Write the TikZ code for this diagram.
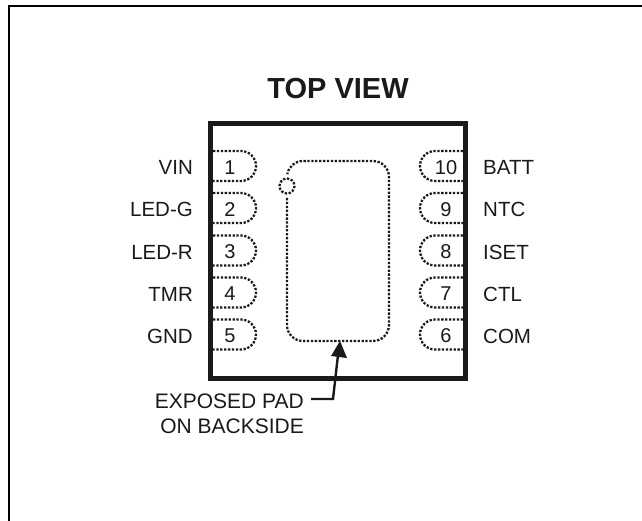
\documentclass[tikz,border=0pt]{standalone}
\usepackage{fontspec}
\setmainfont{Liberation Sans}
\definecolor{ink}{HTML}{1A1A1A}
\tikzset{
  x=1pt,y=-1pt,
  frameline/.style={line width=2pt,black},
  bodyline/.style={line width=5pt,ink,line join=miter},
  dots/.style={line width=2.3pt,ink,line cap=butt,dash pattern=on 2.3pt off 1.6pt},
  lbl/.style={font=\fontsize{20.5}{22}\selectfont,text=ink,inner sep=0pt},
  pinnum/.style={font=\fontsize{20}{22}\selectfont,text=ink,inner sep=0pt},
}
\begin{document}
\begin{tikzpicture}
\useasboundingbox (0,0) rectangle (642,521);
\fill[white] (0,0) rectangle (642,521);
\draw[frameline] (9,521) -- (9,6) -- (642,6);
\node[font=\fontsize{29}{32}\selectfont\bfseries,text=ink,inner sep=0pt] (title) at (338,89) {TOP VIEW};
\draw[bodyline] (210.5,123.5) rectangle (465.5,378.5);
% left pins
\foreach \i/\y/\n/\t in {1/166/1/VIN,2/208/2/LED-G,3/250.5/3/LED-R,4/292.5/4/TMR,5/334.5/5/GND}{
  \draw[dots] (213,\y-15) -- (241,\y-15) arc[start angle=-90,end angle=90,radius=15] -- (213,\y+15);
  \node[pinnum] (p\i) at (230,\y+1.5) {\n};
  \node[lbl,anchor=east] (l\i) at (193,\y+1.5) {\t};
}
% right pins
\foreach \i/\y/\n/\t in {10/166/10/BATT,9/208/9/NTC,8/250.5/8/ISET,7/292.5/7/CTL,6/334.5/6/COM}{
  \draw[dots] (463,\y-15) -- (435,\y-15) arc[start angle=270,end angle=90,radius=15] -- (463,\y+15);
  \node[pinnum] (p\i) at (446,\y+1.5) {\n};
  \node[lbl,anchor=west] (l\i) at (483,\y+1.5) {\t};
}
% exposed pad
\draw[dots] (287,198) -- (287,325) arc[start angle=180,end angle=90,radius=16] -- (373,341)
  arc[start angle=90,end angle=0,radius=16] -- (389,177) arc[start angle=0,end angle=-90,radius=16] -- (303,161)
  arc[start angle=-90,end angle=-170,radius=16];
\draw[dots] (287,186) circle[radius=7.5];
% callout
\node[lbl,font=\fontsize{21}{25}\selectfont,align=right,anchor=east] (cap) at (304,414) {EXPOSED PAD\\ON BACKSIDE};
\coordinate (tip) at (340,341);
\coordinate (bend) at (333,399);
\coordinate (start) at (311,399);
\fill[ink] (tip) -- (331,356) -- (347,358) -- cycle;
\draw[ink,line width=2.4pt] (start) -- (bend) -- (338,355);
\end{tikzpicture}
\end{document}
